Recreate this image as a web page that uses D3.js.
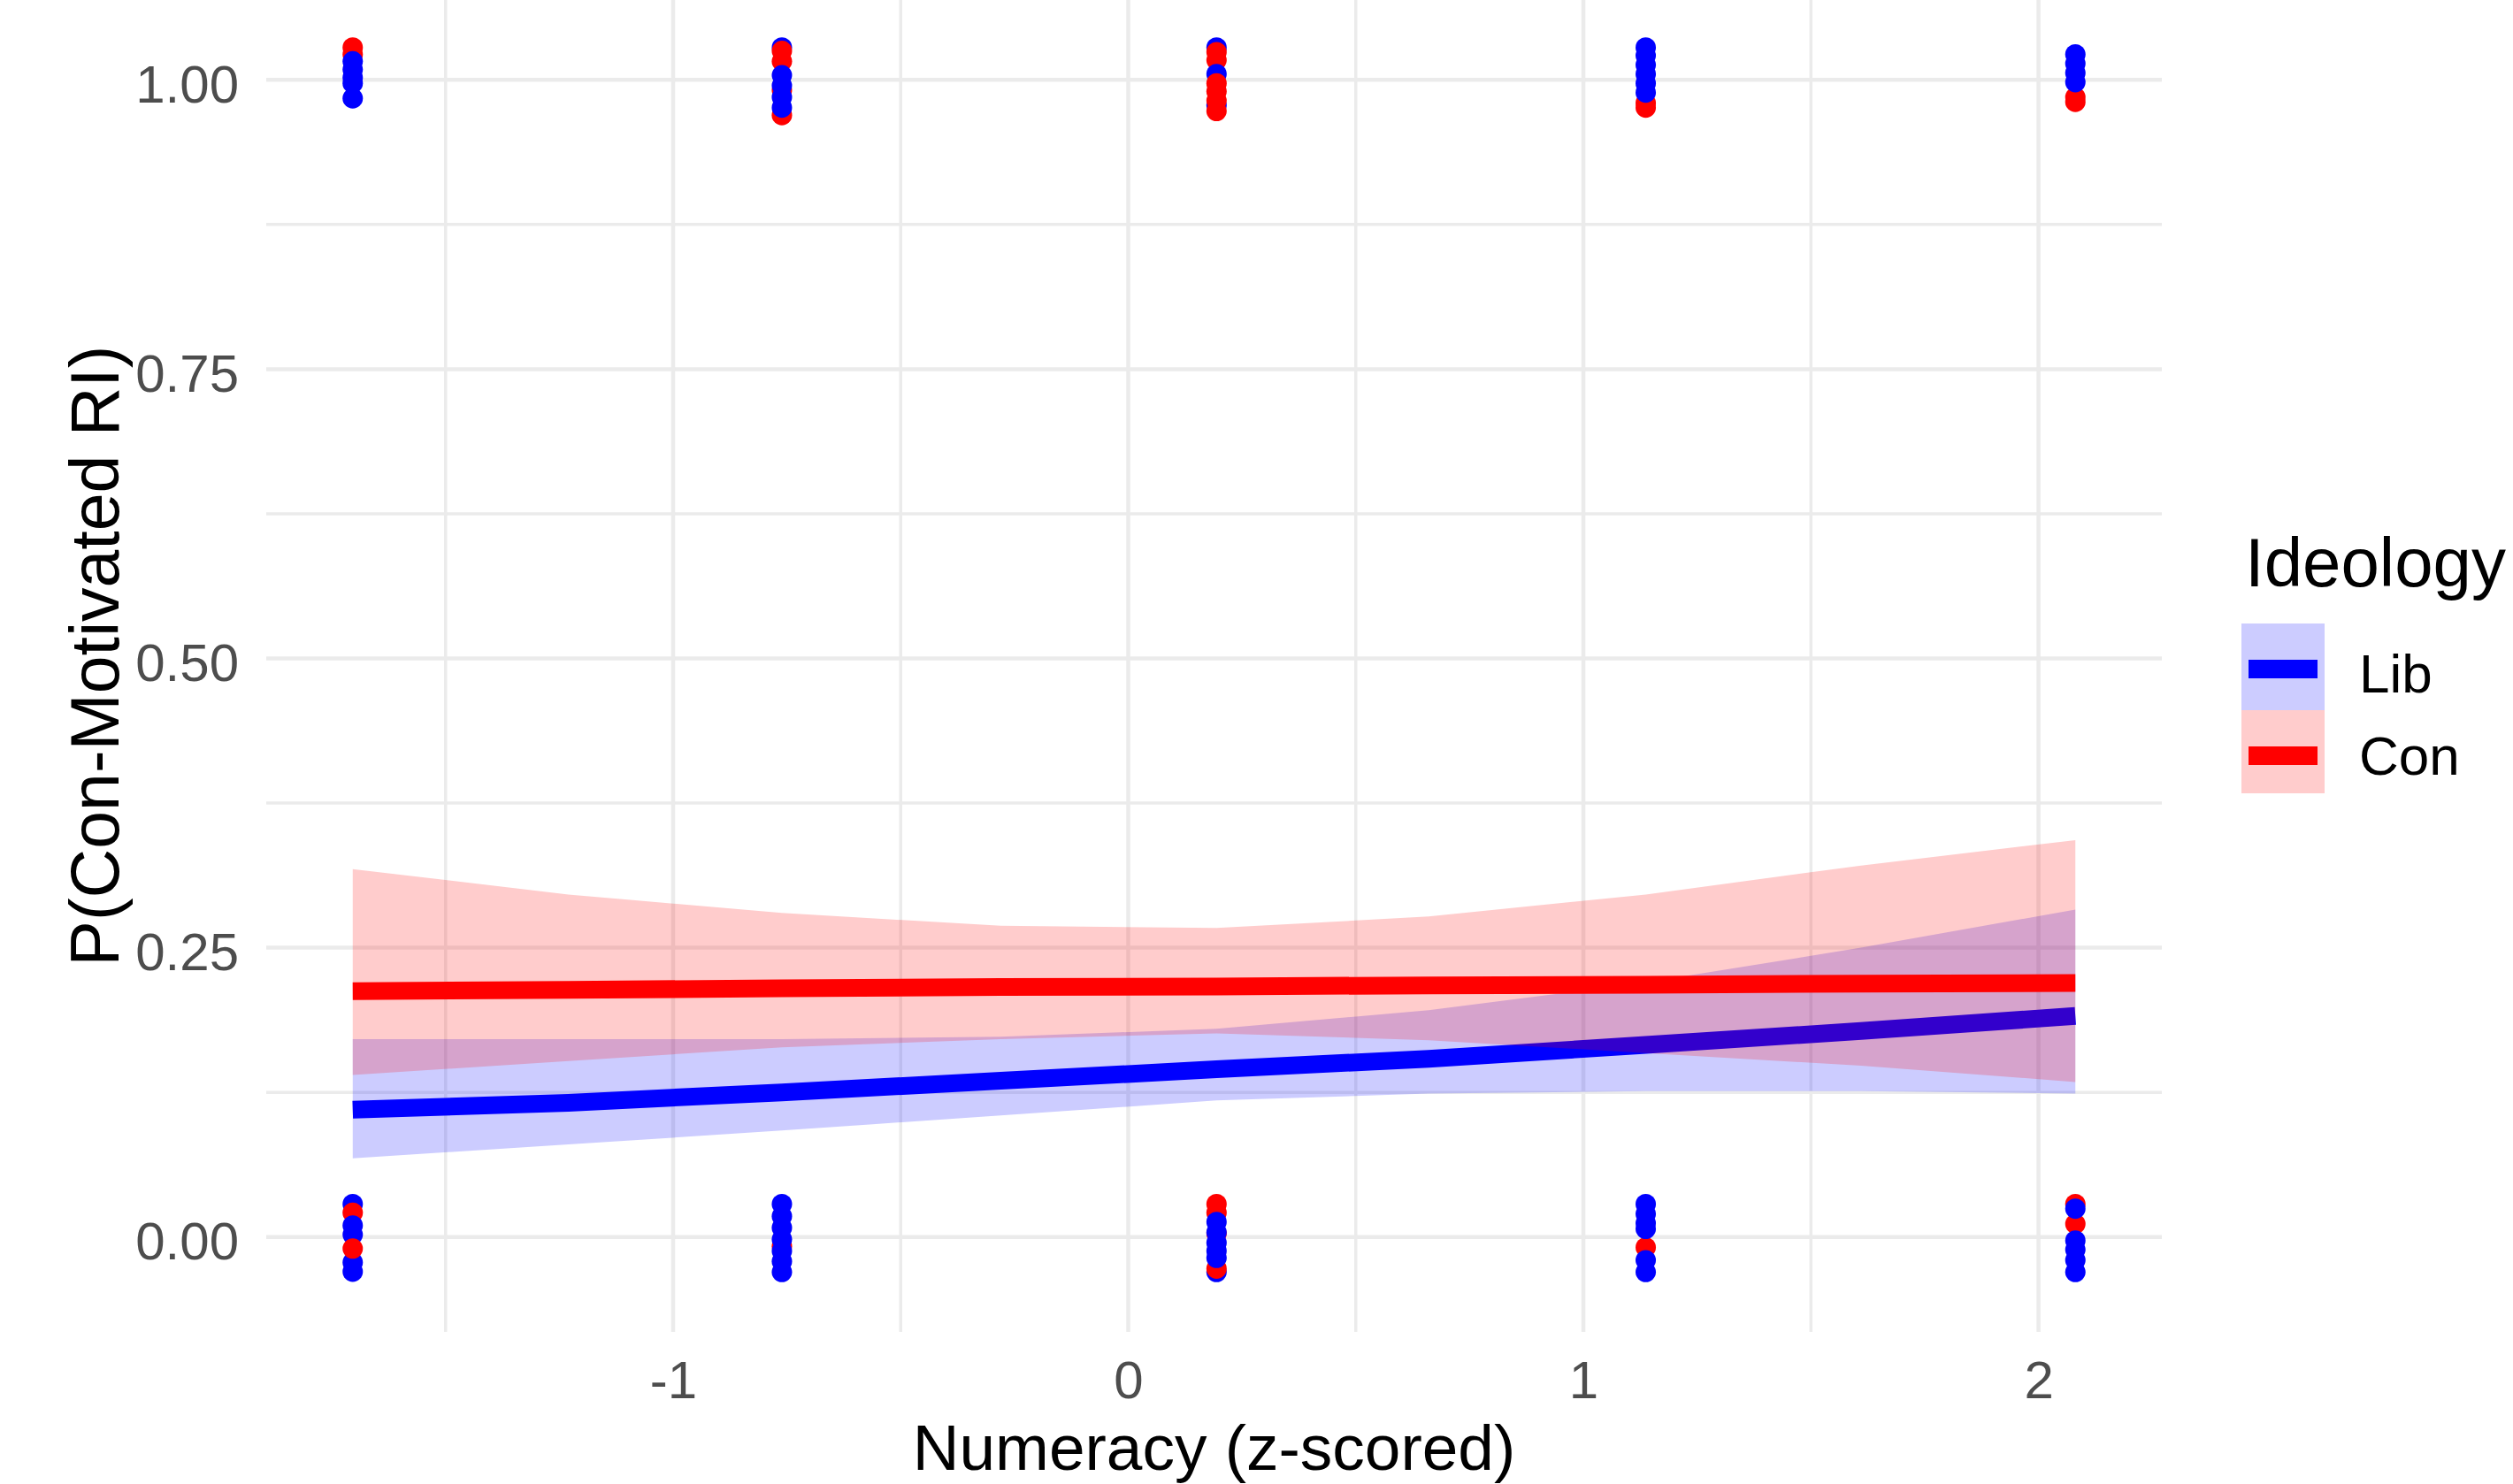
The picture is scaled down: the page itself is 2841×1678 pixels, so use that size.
<!DOCTYPE html>
<html>
<head>
<meta charset="utf-8">
<script src="https://cdn.jsdelivr.net/npm/d3@7"></script>
<style>
  body { margin: 0; background: #fff; }
  svg { display: block; }
  text { font-family: "Liberation Sans", Arial, sans-serif; }
</style>
</head>
<body>
<svg width="2841" height="1678"></svg>
<script>
// numeracy levels (z-scored) where the observations sit
var numeracyLevels = [-1.704, -0.761, 0.194, 1.137, 2.081];

// fitted curves + confidence bands
var fitX     = [-1.704, -1.23, -0.761, -0.28, 0.194, 0.66, 1.137, 1.61, 2.081];
var libFit   = [0.110, 0.116, 0.125, 0.135, 0.145, 0.154, 0.166, 0.178, 0.191];
var libLower = [0.068, 0.080, 0.092, 0.105, 0.118, 0.124, 0.126, 0.126, 0.124];
var libUpper = [0.171, 0.171, 0.171, 0.173, 0.180, 0.196, 0.220, 0.250, 0.283];
var conFit   = [0.2125, 0.2135, 0.215, 0.216, 0.2165, 0.2175, 0.218, 0.219, 0.2195];
var conLower = [0.140, 0.152, 0.164, 0.171, 0.176, 0.170, 0.159, 0.148, 0.134];
var conUpper = [0.318, 0.296, 0.280, 0.269, 0.267, 0.277, 0.296, 0.321, 0.343];

// jittered raw responses: [level index, ideology, outcome], in drawing order
var jitterPts = [
  [0,'Con',1.028],[0,'Con',1.022],[0,'Lib',1.016],[0,'Lib',1.009],[0,'Lib',1.002],[0,'Lib',0.997],[0,'Lib',0.984],
  [1,'Lib',1.028],[1,'Con',0.9695],[1,'Con',0.991],[1,'Con',1.025],[1,'Con',1.016],[1,'Lib',1.004],[1,'Lib',0.995],[1,'Lib',0.985],[1,'Lib',0.976],
  [2,'Lib',1.028],[2,'Lib',0.978],[2,'Con',1.024],[2,'Con',1.017],[2,'Lib',1.005],[2,'Con',0.997],[2,'Con',0.99],[2,'Con',0.982],[2,'Con',0.973],
  [3,'Con',0.976],[3,'Con',0.98],[3,'Lib',1.028],[3,'Lib',1.021],[3,'Lib',1.013],[3,'Lib',1.005],[3,'Lib',0.997],[3,'Lib',0.989],
  [4,'Con',0.985],[4,'Con',0.981],[4,'Lib',1.022],[4,'Lib',1.014],[4,'Lib',1.006],[4,'Lib',0.998],
  [0,'Lib',0.0285],[0,'Lib',-0.030],[0,'Lib',-0.022],[0,'Lib',0.002],[0,'Con',0.021],[0,'Con',-0.010],[0,'Lib',0.010],
  [1,'Con',-0.008],[1,'Lib',0.0285],[1,'Lib',0.018],[1,'Lib',0.008],[1,'Lib',-0.002],[1,'Lib',-0.012],[1,'Lib',-0.021],[1,'Lib',-0.0303],
  [2,'Lib',-0.0303],[2,'Con',-0.0273],[2,'Con',0.0285],[2,'Con',0.021],[2,'Con',0.003],[2,'Lib',0.013],[2,'Lib',0.004],[2,'Lib',-0.005],[2,'Lib',-0.012],[2,'Lib',-0.018],
  [3,'Con',-0.009],[3,'Lib',0.0285],[3,'Lib',0.020],[3,'Lib',0.012],[3,'Lib',0.007],[3,'Lib',-0.020],[3,'Lib',-0.0303],
  [4,'Con',0.0285],[4,'Con',0.0113],[4,'Lib',0.0245],[4,'Lib',-0.003],[4,'Lib',-0.011],[4,'Lib',-0.020],[4,'Lib',-0.0303]
];

var xMajor = [-1, 0, 1, 2], xMinor = [-1.5, -0.5, 0.5, 1.5];
var yMajor = [0, 0.25, 0.5, 0.75, 1], yMinor = [0.125, 0.375, 0.625, 0.875];
var groups = ['Lib', 'Con'];
var colors = {Lib: '#0000ff', Con: '#ff0000'};

var svg = d3.select('svg');
var x = d3.scaleLinear().domain([-1.894, 2.271]).range([301, 2444]);
var y = d3.scaleLinear().domain([-0.082, 1.082]).range([1506, -17]);
var grid = '#ebebeb';

// grid
var g = svg.append('g');
g.selectAll('line.ymin').data(yMinor).enter().append('line')
  .attr('x1', x.range()[0]).attr('x2', x.range()[1])
  .attr('y1', d => y(d)).attr('y2', d => y(d))
  .attr('stroke', grid).attr('stroke-width', 3.5);
g.selectAll('line.xmin').data(xMinor).enter().append('line')
  .attr('y1', y.range()[0]).attr('y2', y.range()[1])
  .attr('x1', d => x(d)).attr('x2', d => x(d))
  .attr('stroke', grid).attr('stroke-width', 3.5);
g.selectAll('line.ymaj').data(yMajor).enter().append('line')
  .attr('x1', x.range()[0]).attr('x2', x.range()[1])
  .attr('y1', d => y(d)).attr('y2', d => y(d))
  .attr('stroke', grid).attr('stroke-width', 4.5);
g.selectAll('line.xmaj').data(xMajor).enter().append('line')
  .attr('y1', y.range()[0]).attr('y2', y.range()[1])
  .attr('x1', d => x(d)).attr('x2', d => x(d))
  .attr('stroke', grid).attr('stroke-width', 4.5);

// points
svg.append('g').selectAll('circle').data(jitterPts).enter().append('circle')
  .attr('cx', d => x(numeracyLevels[d[0]]))
  .attr('cy', d => y(d[2]))
  .attr('r', 11.5)
  .attr('fill', d => colors[d[1]]);

// ribbons + lines, Lib first so Con's band tints the Lib line
var series = {
  Lib: {fit: libFit, lo: libLower, hi: libUpper},
  Con: {fit: conFit, lo: conLower, hi: conUpper}
};
var area = d3.area().x((d, i) => x(fitX[i])).y0(d => y(d[0])).y1(d => y(d[1]));
var line = d3.line().x((d, i) => x(fitX[i])).y(d => y(d));
groups.forEach(function(k) {
  var s = series[k];
  svg.append('path')
    .attr('d', area(d3.zip(s.lo, s.hi)))
    .attr('fill', colors[k]).attr('fill-opacity', 0.2);
  svg.append('path')
    .attr('d', line(s.fit))
    .attr('fill', 'none').attr('stroke', colors[k]).attr('stroke-width', 20);
});

// axes
var yAxis = svg.append('g').attr('transform', 'translate(301,0)')
  .call(d3.axisLeft(y).tickValues(yMajor).tickFormat(d3.format('.2f')).tickSize(0).tickPadding(31));
var xAxis = svg.append('g').attr('transform', 'translate(0,1506)')
  .call(d3.axisBottom(x).tickValues(xMajor).tickFormat(d => d < 0 ? '-' + Math.abs(d) : d).tickSize(0).tickPadding(32));
[yAxis, xAxis].forEach(function(a) {
  a.select('.domain').remove();
  a.selectAll('text').attr('fill', '#4d4d4d').style('font-size', '60px')
    .style('font-family', '"Liberation Sans", Arial, sans-serif');
});
yAxis.selectAll('text').attr('dy', '0.42em');

// x title sits right at the bottom edge, kept just inside it
svg.append('text')
  .attr('x', 1372.5).attr('y', 1662)
  .attr('text-anchor', 'middle').style('font-size', '73px')
  .text('Numeracy (z-scored)');
svg.append('text')
  .attr('transform', 'translate(134,741.5) rotate(-90)')
  .attr('text-anchor', 'middle').style('font-size', '77px')
  .text('P(Con-Motivated RI)');

// legend
var leg = svg.append('g');
leg.append('text').attr('x', 2538).attr('y', 663).style('font-size', '78px').text('Ideology');
var keyTop = [705, 803], keyH = [98, 94], labelBase = [783, 876];
groups.forEach(function(k, i) {
  leg.append('rect').attr('x', 2534).attr('y', keyTop[i]).attr('width', 94).attr('height', keyH[i])
    .attr('fill', colors[k]).attr('fill-opacity', 0.2);
  leg.append('line').attr('x1', 2542).attr('x2', 2620)
    .attr('y1', keyTop[i] + 51.5).attr('y2', keyTop[i] + 51.5)
    .attr('stroke', colors[k]).attr('stroke-width', 21);
  leg.append('text').attr('x', 2667).attr('y', labelBase[i]).style('font-size', '62px').text(k);
});
</script>
</body>
</html>
